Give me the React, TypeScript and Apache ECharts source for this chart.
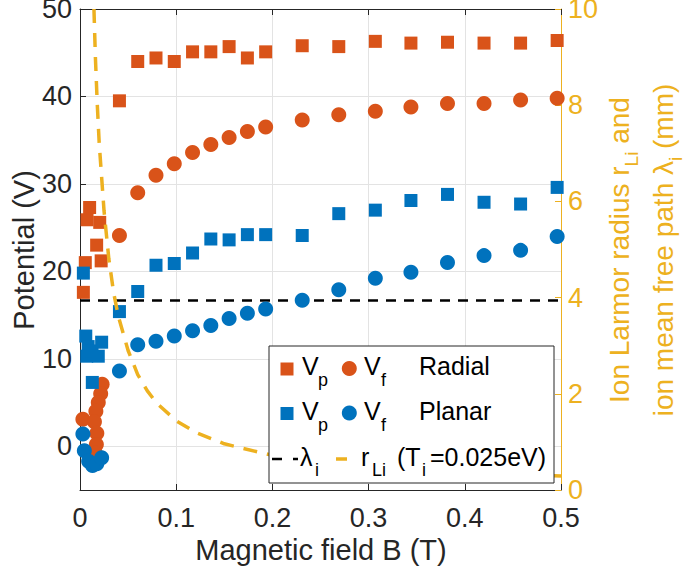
import React, { useEffect, useRef } from "react";
import * as echarts from "echarts";

// ---- data ----
const bField = [0.041, 0.06, 0.079, 0.098, 0.117, 0.136, 0.155, 0.174, 0.193, 0.231, 0.269, 0.307, 0.344, 0.382, 0.42, 0.458, 0.496];
const radialVp = [39.5, 44.0, 44.4, 44.0, 45.1, 45.1, 45.7, 44.4, 45.1, 45.8, 45.7, 46.3, 46.1, 46.2, 46.1, 46.1, 46.4];
const radialVf = [24.1, 29.0, 31.0, 32.3, 33.6, 34.5, 35.3, 36.0, 36.5, 37.3, 37.9, 38.3, 38.8, 39.2, 39.2, 39.6, 39.8];
const planarVp = [15.4, 17.7, 20.7, 20.9, 22.1, 23.7, 23.6, 24.2, 24.2, 24.1, 26.6, 27.0, 28.1, 28.8, 27.9, 27.7, 29.6];
const planarVf = [8.6, 11.6, 12.0, 12.6, 13.2, 13.8, 14.6, 15.2, 15.7, 16.7, 17.9, 19.2, 19.9, 21.0, 21.8, 22.4, 24.0];

const radialVpLowB = [0.0035, 0.0055, 0.0073, 0.01, 0.0173, 0.0205, 0.022];
const radialVpLow = [17.6, 21.0, 25.9, 27.3, 23.0, 25.6, 21.2];
const radialVfLowB = [0.003, 0.023, 0.0215, 0.019, 0.0165, 0.015, 0.0175, 0.017, 0.016];
const radialVfLow = [3.1, 7.1, 6.0, 5.0, 4.0, 2.8, 1.5, 0.2, -0.8];
const planarVpLowB = [0.0035, 0.006, 0.0085, 0.007, 0.0125, 0.019, 0.0225, 0.0128];
const planarVpLow = [19.8, 12.6, 11.4, 10.3, 10.9, 10.3, 11.9, 7.3];
const planarVfLowB = [0.003, 0.0045, 0.009, 0.013, 0.0175, 0.0225];
const planarVfLow = [1.4, -0.5, -1.7, -2.2, -2.0, -1.3];

const larmorB = [0.0145, 0.016, 0.018, 0.02, 0.025, 0.03, 0.035, 0.04, 0.05, 0.06, 0.07, 0.08, 0.1, 0.12, 0.15, 0.2, 0.25, 0.3, 0.35, 0.4, 0.45, 0.5];
const larmorR = [10.0, 9.0, 8.0, 7.2, 5.8, 4.8, 4.1, 3.6, 2.9, 2.4, 2.06, 1.8, 1.44, 1.2, 0.96, 0.72, 0.58, 0.48, 0.41, 0.36, 0.32, 0.29];

const lambdaB = [0, 0.5];
const lambdaI = [3.94, 3.94];

const xTicks = [0, 0.1, 0.2, 0.3, 0.4, 0.5];
const leftTicks = [0, 10, 20, 30, 40, 50];
const rightTicks = [0, 2, 4, 6, 8, 10];

const ORANGE = "#D95319";
const BLUE = "#0072BD";
const YELLOW = "#EDB120";
const AX = "#262626";
const GRIDC = "#e3e3e3";
const FONT = "'Liberation Sans', Arial, Helvetica, sans-serif";

const pairs = (b: number[], v: number[]) => b.map((x, i) => [x, v[i]]);

export default function App() {
  const ref = useRef<HTMLDivElement>(null);
  useEffect(() => {
    if (!ref.current) return;
    const chart = echarts.init(ref.current, null, { renderer: "svg" });

    const tickFont = { fontSize: 27, fontFamily: FONT };
    const legendText = (text: string, x: number, y: number, size = 25) => ({
      type: "text",
      x,
      y,
      z: 101,
      style: { text, fill: "#000", fontSize: size, fontFamily: FONT, align: "left", verticalAlign: "middle" },
    });
    const scatter = (name: string, symbol: string, size: number, color: string, data: number[][]) => ({
      name,
      type: "scatter",
      symbol,
      symbolSize: size,
      z: 2,
      itemStyle: { color, opacity: 1 },
      emphasis: { disabled: true },
      data,
    });

    const option: any = {
      animation: false,
      textStyle: { fontFamily: FONT },
      grid: { left: 80, right: 125, top: 9, bottom: 81, containLabel: false, outerBoundsMode: "none" },
      xAxis: [
        {
          type: "value",
          min: xTicks[0],
          max: xTicks[xTicks.length - 1],
          interval: 0.1,
          position: "bottom",
          axisLine: { show: true, onZero: false, lineStyle: { color: AX, width: 1 } },
          axisTick: { show: true, inside: true, length: 6, lineStyle: { color: AX } },
          axisLabel: { ...tickFont, color: AX, margin: 14, formatter: (v: number) => String(Math.round(v * 10) / 10) },
          splitLine: { show: true, lineStyle: { color: GRIDC, width: 1 } },
        },
        {
          type: "value",
          min: xTicks[0],
          max: xTicks[xTicks.length - 1],
          interval: 0.1,
          position: "top",
          axisLine: { show: true, onZero: false, lineStyle: { color: AX, width: 1 } },
          axisTick: { show: true, inside: true, length: 6, lineStyle: { color: AX } },
          axisLabel: { show: false },
          splitLine: { show: false },
        },
      ],
      yAxis: [
        {
          type: "value",
          min: -5,
          max: 50,
          position: "left",
          axisLine: { show: true, onZero: false, lineStyle: { color: AX, width: 1 } },
          axisTick: { show: true, inside: true, length: 6, lineStyle: { color: AX }, customValues: leftTicks },
          axisLabel: { ...tickFont, lineHeight: 18, color: AX, margin: 8, customValues: leftTicks },
          splitLine: { show: true, lineStyle: { color: GRIDC, width: 1 } },
        },
        {
          type: "value",
          min: rightTicks[0],
          max: rightTicks[rightTicks.length - 1],
          interval: 2,
          position: "right",
          axisLine: { show: true, onZero: false, lineStyle: { color: YELLOW, width: 1 } },
          axisTick: { show: true, inside: true, length: 6, lineStyle: { color: YELLOW } },
          axisLabel: { ...tickFont, lineHeight: 18, color: YELLOW, margin: 7 },
          splitLine: { show: false },
        },
      ],
      series: [
        {
          name: "lambda",
          type: "line",
          yAxisIndex: 1,
          data: pairs(lambdaB, lambdaI),
          symbol: "none",
          silent: true,
          z: 1,
          lineStyle: { color: "#000", width: 2.5, type: [10, 8] },
        },
        scatter("Vp radial", "rect", 13, ORANGE, [...pairs(bField, radialVp), ...pairs(radialVpLowB, radialVpLow)]),
        scatter("Vf radial", "circle", 15, ORANGE, [...pairs(bField, radialVf), ...pairs(radialVfLowB, radialVfLow)]),
        scatter("Vp planar", "rect", 13, BLUE, [...pairs(bField, planarVp), ...pairs(planarVpLowB, planarVpLow)]),
        scatter("Vf planar", "circle", 15, BLUE, [...pairs(bField, planarVf), ...pairs(planarVfLowB, planarVfLow)]),
        {
          name: "rLi",
          type: "line",
          yAxisIndex: 1,
          data: pairs(larmorB, larmorR),
          symbol: "none",
          silent: true,
          z: 3,
          lineStyle: { color: YELLOW, width: 3.5, type: [14, 10] },
        },
      ],
      graphic: [
        {
          type: "text",
          x: 24,
          y: 250,
          rotation: Math.PI / 2,
          style: { text: "Potential (V)", fill: AX, fontSize: 29, fontFamily: FONT, align: "center", verticalAlign: "middle" },
        },
        {
          type: "text",
          x: 321,
          y: 550,
          style: { text: "Magnetic field B (T)", fill: AX, fontSize: 29, fontFamily: FONT, align: "center", verticalAlign: "middle" },
        },
        {
          type: "text",
          x: 641,
          y: 250,
          rotation: Math.PI / 2,
          style: {
            text: "Ion Larmor radius r{s|Li} and\nion mean free path λ{s|i} (mm)",
            fill: YELLOW,
            fontSize: 28,
            fontFamily: FONT,
            lineHeight: 44,
            align: "center",
            verticalAlign: "middle",
            rich: {
              s: { fontSize: 19, lineHeight: 20, verticalAlign: "bottom", fill: YELLOW, fontFamily: FONT },
            },
          },
        },
        // legend
        {
          type: "rect",
          z: 100,
          shape: { x: 269, y: 346, width: 285, height: 137 },
          style: { fill: "#fff", stroke: AX, lineWidth: 1 },
        },
        { type: "rect", z: 101, shape: { x: 280.5, y: 362.5, width: 13, height: 13 }, style: { fill: ORANGE } },
        legendText("V", 302, 366),
        legendText("p", 318, 380, 18),
        { type: "circle", z: 101, shape: { cx: 349.3, cy: 368.5, r: 7.5 }, style: { fill: ORANGE } },
        legendText("V", 364, 366),
        legendText("f", 381, 380, 18),
        legendText("Radial", 419, 366),
        { type: "rect", z: 101, shape: { x: 280.5, y: 407, width: 13, height: 13 }, style: { fill: BLUE } },
        legendText("V", 302, 411),
        legendText("p", 318, 425, 18),
        { type: "circle", z: 101, shape: { cx: 349.3, cy: 413, r: 7.5 }, style: { fill: BLUE } },
        legendText("V", 364, 411),
        legendText("f", 381, 425, 18),
        legendText("Planar", 419, 411),
        {
          type: "line",
          z: 101,
          shape: { x1: 272, y1: 459, x2: 298, y2: 459 },
          style: { stroke: "#000", lineWidth: 2.5, lineDash: [10, 11] },
        },
        legendText("λ", 300, 457),
        legendText("i", 315, 470, 18),
        {
          type: "line",
          z: 101,
          shape: { x1: 336, y1: 459, x2: 347, y2: 459 },
          style: { stroke: YELLOW, lineWidth: 3.5 },
        },
        legendText("r", 361, 457),
        legendText("Li", 372, 470, 18),
        legendText("(T", 397, 457),
        legendText("i", 422, 470, 18),
        legendText("=0.025eV)", 430, 457),
      ],
    };

    chart.setOption(option);
    return () => chart.dispose();
  }, []);

  return <div ref={ref} style={{ position: "absolute", left: 0, top: 0, width: 686, height: 571 }} />;
}
